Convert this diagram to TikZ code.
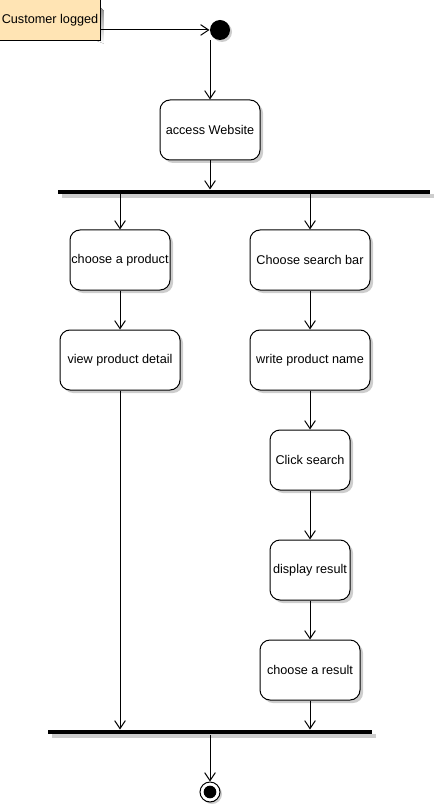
\documentclass[tikz,border=0pt]{standalone}
\usepackage{fontspec}
\setmainfont{Liberation Sans}
\usetikzlibrary{arrows.meta,shadows}
\definecolor{notefill}{RGB}{255,228,180}
\definecolor{shade}{RGB}{205,205,205}
\begin{document}
\begin{tikzpicture}[x=0.75pt,y=-0.75pt,
  font=\fontsize{9.5pt}{11pt}\selectfont,
  every path/.style={line width=0.75pt},
  conn/.style={draw=black,line width=0.75pt,-{Straight Barb[length=6pt,width=8pt]}},
  act/.style={draw=black,fill=white,rounded corners=7.5pt,minimum height=45pt,inner sep=0pt,
    drop shadow={shadow xshift=2.25pt,shadow yshift=-2.25pt,fill=shade,opacity=1}},
  barnode/.style={fill=black,minimum height=3pt,inner sep=0pt,
    drop shadow={shadow xshift=3pt,shadow yshift=-3pt,fill=shade,opacity=1}},
]
\useasboundingbox (0,0) rectangle (435,805);
% note
\node[minimum width=75pt,minimum height=30pt,inner sep=0pt] (note) at (50,20) {};
\fill[shade] ([shift={(3,3)}]note.north west) -- ([shift={(-5,3)}]note.north east) -- ([shift={(3,11)}]note.north east) -- ([shift={(3,3)}]note.south east) -- cycle;
\filldraw[fill=notefill,draw=black,line width=0.6pt] (note.north west) -- ([xshift=-8]note.north east) -- ([yshift=8]note.north east) -- (note.south east) -- (note.south west) -- cycle;
\draw[line width=0.6pt] ([xshift=-8]note.north east) -- ([xshift=-8,yshift=8]note.north east) -- ([yshift=8]note.north east);
\node at (note) {Customer logged};
% start
\node[circle,fill=black,minimum size=15pt,inner sep=0pt,
  drop shadow={shadow xshift=1.5pt,shadow yshift=-1.5pt,fill=shade,opacity=1}] (start) at (220,30) {};
% activities
\node[act,minimum width=75pt] (aw) at (210,130) {access Website};
\node[barnode,minimum width=279pt] (bar1) at (244,192) {};
\node[act,minimum width=75pt] (cp) at (120,260) {choose a product};
\node[act,minimum width=90pt] (vpd) at (120,360) {view product detail};
\node[act,minimum width=90pt] (csb) at (310,260) {Choose search bar};
\node[act,minimum width=90pt] (wpn) at (310,360) {write product name};
\node[act,minimum width=60pt] (cs) at (310,460) {Click search};
\node[act,minimum width=60pt] (dr) at (310,570) {display result};
\node[act,minimum width=75pt] (car) at (310,670) {choose a result};
\node[barnode,minimum width=243pt] (bar2) at (210,732) {};
% end
\node[circle,draw=black,fill=white,line width=0.75pt,minimum size=15pt,inner sep=0pt,
  drop shadow={shadow xshift=1.5pt,shadow yshift=-1.5pt,fill=shade,opacity=1}] (end) at (210,792) {};
\node[circle,fill=black,minimum size=9.5pt,inner sep=0pt] (endin) at (end) {};
% connectors
\draw[conn] (note.east |- start) -- (start.west);
\draw[conn] (start.south -| aw) -- (aw.north);
\draw[conn] (aw.south) -- (aw.south |- bar1.north);
\draw[conn] (bar1.south -| cp) -- (cp.north);
\draw[conn] (bar1.south -| csb) -- (csb.north);
\draw[conn] (cp.south) -- (vpd.north);
\draw[conn] (csb.south) -- (wpn.north);
\draw[conn] (wpn.south) -- (cs.north);
\draw[conn] (cs.south) -- (dr.north);
\draw[conn] (dr.south) -- (car.north);
\draw[conn] (vpd.south) -- (vpd.south |- bar2.north);
\draw[conn] (car.south) -- (car.south |- bar2.north);
\draw[conn] (bar2.south) -- (end.north);
\end{tikzpicture}
\end{document}
